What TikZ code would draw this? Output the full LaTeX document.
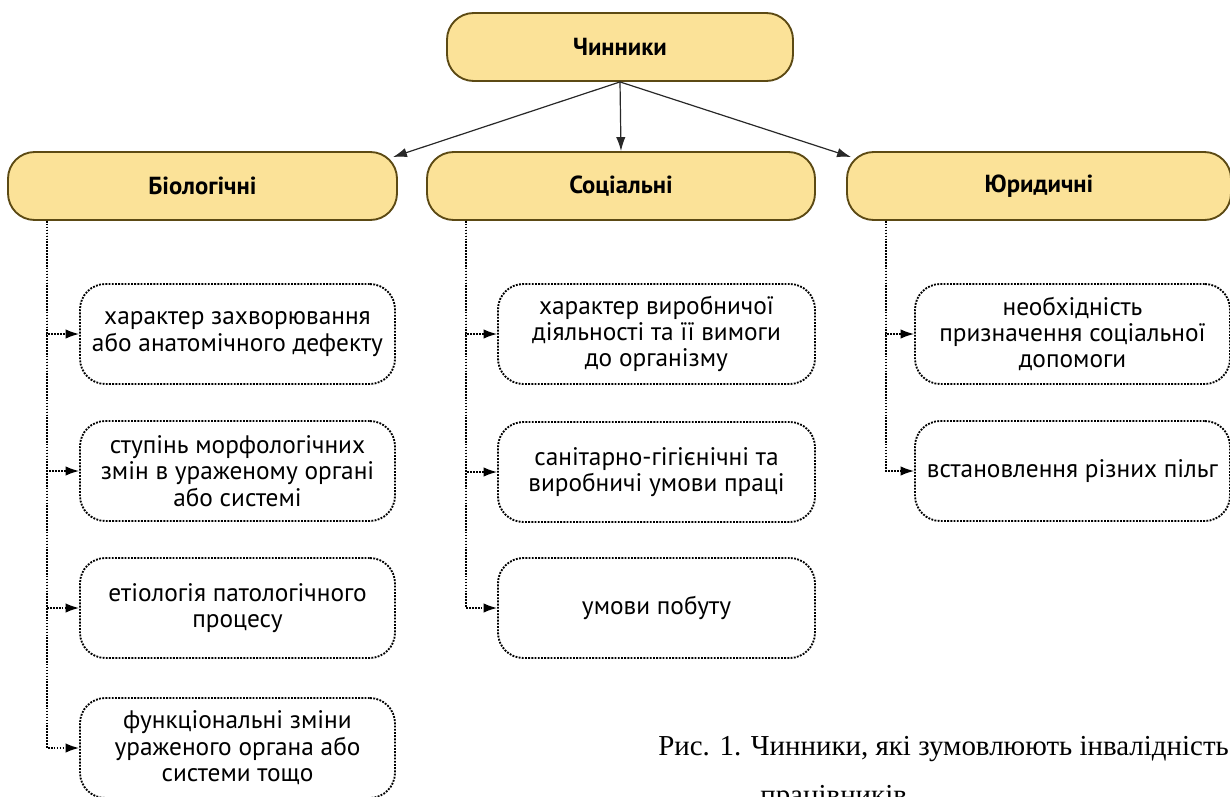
\documentclass[tikz,border=0pt]{standalone}
\usepackage{fontspec}
\setmainfont{PT Sans}
\newfontfamily\capfont{Liberation Serif}
\usetikzlibrary{arrows.meta,calc}
\definecolor{hdrfill}{RGB}{251,226,152}
\definecolor{hdrdraw}{RGB}{92,74,20}
\definecolor{arrgray}{RGB}{40,40,40}
\tikzset{
  hdr/.style={rounded corners=20pt, draw=hdrdraw, line width=1.4pt, fill=hdrfill,
    minimum height=68*0.75pt, font=\fontsize{18.5}{20}\selectfont\bfseries, inner sep=0pt},
  sub/.style={rounded corners=19pt, draw=black, densely dotted, line width=1.4pt,
    minimum height=100*0.75pt, align=center, inner sep=0pt,
    font=\fontsize{19}{19.8}\selectfont},
  mainarr/.style={-{Latex[length=10.5pt,width=7pt]}, draw=arrgray, line width=0.9pt},
  branch/.style={densely dotted, line width=1.2pt, -{Latex[length=10pt,width=7pt]}},
}
\begin{document}
\begin{tikzpicture}[x=0.75pt,y=-0.75pt]
\useasboundingbox (0,0) rectangle (1230,796);
% headers
\node[hdr, minimum width=346*0.75pt] (top) at (620,47) {Чинники};
\node[hdr, minimum width=389*0.75pt] (bio) at (202.5,186) {Біологічні};
\node[hdr, minimum width=388*0.75pt] (soc) at (621,186) {Соціальні};
\node[hdr, minimum width=384*0.75pt] (leg) at (1039,186) {Юридичні};
% main arrows
\draw[mainarr] (top.south) -- ($(bio.north east)+(-5,6)$);
\draw[mainarr] (top.south) -- (soc.north);
\draw[mainarr] (top.south) -- ($(leg.north west)+(5,6)$);
% biological
\node[sub, minimum width=315*0.75pt] (b1) at (237.5,334) {характер захворювання\\або анатомічного дефекту};
\node[sub, minimum width=315*0.75pt] (b2) at (237.5,471) {ступінь морфологічних\\змін в ураженому органі\\або системі};
\node[sub, minimum width=315*0.75pt] (b3) at (237.5,608) {етіологія патологічного\\процесу};
\node[sub, minimum width=315*0.75pt] (b4) at (237.5,748) {функціональні зміни\\ураженого органа або\\системи тощо};
% social
\node[sub, minimum width=317*0.75pt] (s1) at (656.5,334) {характер виробничої\\діяльності та її вимоги\\до організму};
\node[sub, minimum width=317*0.75pt] (s2) at (656.5,472) {санітарно-гігієнічні та\\виробничі умови праці};
\node[sub, minimum width=317*0.75pt] (s3) at (656.5,608) {умови побуту};
% legal
\node[sub, minimum width=315*0.75pt] (l1) at (1072.5,334) {необхідність\\призначення соціальної\\допомоги};
\node[sub, minimum width=315*0.75pt] (l2) at (1072.5,471) {встановлення різних пільг};
% branches
\foreach \h/\s in {bio/b1,bio/b2,bio/b3,bio/b4,soc/s1,soc/s2,soc/s3,leg/l1,leg/l2}{
  \draw[branch] ($(\h.south west)+(40,0)$) |- (\s.west);
}
% caption
\node[anchor=base west, inner sep=0pt, font=\capfont\fontsize{21.7}{26}\selectfont] (cap1) at (658,755) {Рис. 1. Чинники, які зумовлюють інвалідність};
\node[anchor=base west, inner sep=0pt, font=\capfont\fontsize{21.7}{26}\selectfont] (cap2) at (760,804) {працівників};
\end{tikzpicture}
\end{document}
